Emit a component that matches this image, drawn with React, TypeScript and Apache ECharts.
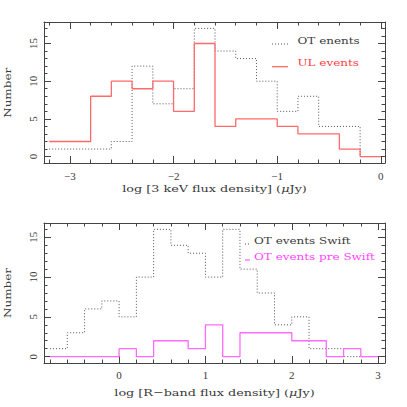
import React, { useEffect, useRef } from "react";
import * as echarts from "echarts";

// ---- data ----
const topBinLefts = [-3.2, -3.0, -2.8, -2.6, -2.4, -2.2, -2.0, -1.8, -1.6, -1.4, -1.2, -1.0, -0.8, -0.6, -0.4, -0.2];
const topBinEnd = 0;
const otCounts = [1, 1, 1, 2, 12, 7, 9, 17, 14, 13, 10, 6, 8, 4, 4, 0];
const ulCounts = [2, 2, 8, 10, 9, 10, 6, 15, 4, 5, 5, 4, 3, 3, 1, 0];

const bottomBinLefts = [-0.8, -0.6, -0.4, -0.2, 0, 0.2, 0.4, 0.6, 0.8, 1.0, 1.2, 1.4, 1.6, 1.8, 2.0, 2.2, 2.4, 2.6, 2.8];
const bottomBinEnd = 3.0;
const swiftCounts = [1, 3, 6, 7, 5, 10, 16, 14, 13, 10, 16, 11, 8, 4, 5, 1, 1, 0, 0];
const preSwiftCounts = [0, 0, 0, 0, 1, 0, 2, 2, 1, 4, 0, 3, 3, 3, 2, 2, 0, 1, 0];

const topXMajor = [-3, -2, -1, 0];
const bottomXMajor = [0, 1, 2, 3];
const yMajor = [0, 5, 10, 15];

const topXRange = [-3.25, 0.04];
const bottomXRange = [-0.87, 3.08];
const topYRange = [-0.85, 17.85];
const bottomYRange = [-0.8, 16.8];

const steps = (lefts: number[], end: number, vals: number[]) => {
  const d = lefts.map((x, i) => [x, vals[i]]);
  d.push([end, vals[vals.length - 1]]);
  return d;
};

const rangeTicks = (a: number, b: number, s: number) => {
  const out: number[] = [];
  const n = Math.round((b - a) / s);
  for (let i = 0; i <= n; i++) out.push(+(a + i * s).toFixed(3));
  return out;
};

const AX = "#444";
const TXT = "#3a3a3a";
const SERIF = "'DejaVu Serif', 'Liberation Serif', serif";
const TICKFONT = "'Liberation Serif', serif";

export default function App() {
  const ref = useRef<HTMLDivElement>(null);
  useEffect(() => {
    document.body.style.margin = "0";
    const chart = echarts.init(ref.current!, null, { renderer: "svg" });

    const grids = [
      { left: 44, top: 22, width: 341, height: 141 },
      { left: 44, top: 223, width: 341, height: 140 },
    ];

    const xAxes: any[] = [];
    const yAxes: any[] = [];
    const cfgs = [
      { xr: topXRange, yr: topYRange, xm: topXMajor, xmin: rangeTicks(-3.2, 0, 0.2), ymin: rangeTicks(0, 17, 1), labMargin: 7 },
      { xr: bottomXRange, yr: bottomYRange, xm: bottomXMajor, xmin: rangeTicks(-0.8, 3, 0.2), ymin: rangeTicks(0, 16, 1), labMargin: 6 },
    ];
    cfgs.forEach((c, g) => {
      const base = { type: "value", gridIndex: g, splitLine: { show: false } };
      // x major bottom
      xAxes.push({
        ...base, min: c.xr[0], max: c.xr[1], position: "bottom",
        axisLine: { show: true, onZero: false, lineStyle: { color: AX, width: 1 } },
        axisTick: { show: true, inside: true, length: 7, customValues: c.xm, lineStyle: { color: AX } },
        axisLabel: {
          show: true, customValues: c.xm, margin: c.labMargin, color: TXT, fontSize: 11, fontFamily: TICKFONT,
          formatter: (v: number) => String(v).replace("-", "\u2212"),
        },
      });
      xAxes.push({
        ...base, min: c.xr[0], max: c.xr[1], position: "bottom",
        axisLine: { show: false, onZero: false },
        axisTick: { show: true, inside: true, length: 3.5, customValues: c.xmin, lineStyle: { color: AX } },
        axisLabel: { show: false },
      });
      xAxes.push({
        ...base, min: c.xr[0], max: c.xr[1], position: "top",
        axisLine: { show: true, onZero: false, lineStyle: { color: AX, width: 1 } },
        axisTick: { show: true, inside: true, length: 7, customValues: c.xm, lineStyle: { color: AX } },
        axisLabel: { show: false },
      });
      xAxes.push({
        ...base, min: c.xr[0], max: c.xr[1], position: "top",
        axisLine: { show: false, onZero: false },
        axisTick: { show: true, inside: true, length: 3.5, customValues: c.xmin, lineStyle: { color: AX } },
        axisLabel: { show: false },
      });
      // y axes
      yAxes.push({
        ...base, min: c.yr[0], max: c.yr[1], position: "left",
        axisLine: { show: true, onZero: false, lineStyle: { color: AX, width: 1 } },
        axisTick: { show: true, inside: true, length: 7, customValues: yMajor, lineStyle: { color: AX } },
        axisLabel: { show: true, customValues: yMajor, rotate: 90, margin: 6, color: TXT, fontSize: 11, fontFamily: TICKFONT },
      });
      yAxes.push({
        ...base, min: c.yr[0], max: c.yr[1], position: "left",
        axisLine: { show: false, onZero: false },
        axisTick: { show: true, inside: true, length: 3.5, customValues: c.ymin, lineStyle: { color: AX } },
        axisLabel: { show: false },
      });
      yAxes.push({
        ...base, min: c.yr[0], max: c.yr[1], position: "right",
        axisLine: { show: true, onZero: false, lineStyle: { color: AX, width: 1 } },
        axisTick: { show: true, inside: true, length: 7, customValues: yMajor, lineStyle: { color: AX } },
        axisLabel: { show: false },
      });
      yAxes.push({
        ...base, min: c.yr[0], max: c.yr[1], position: "right",
        axisLine: { show: false, onZero: false },
        axisTick: { show: true, inside: true, length: 3.5, customValues: c.ymin, lineStyle: { color: AX } },
        axisLabel: { show: false },
      });
    });

    const dotted = { color: "#555", width: 1, type: [1, 2] };
    const series: any[] = [
      { name: "OT enents", type: "line", step: "end", xAxisIndex: 0, yAxisIndex: 0, symbol: "none", lineStyle: dotted, data: steps(topBinLefts, topBinEnd, otCounts) },
      { name: "UL events", type: "line", step: "end", xAxisIndex: 0, yAxisIndex: 0, symbol: "none", lineStyle: { color: "#ff6a6a", width: 1.3 }, data: steps(topBinLefts, topBinEnd, ulCounts) },
      { name: "OT events Swift", type: "line", step: "end", xAxisIndex: 4, yAxisIndex: 4, symbol: "none", lineStyle: dotted, data: steps(bottomBinLefts, bottomBinEnd, swiftCounts) },
      { name: "OT events pre Swift", type: "line", step: "end", xAxisIndex: 4, yAxisIndex: 4, symbol: "none", lineStyle: { color: "#ff6aff", width: 1.3 }, data: steps(bottomBinLefts, bottomBinEnd, preSwiftCounts) },
    ];

    const txt = (text: string, x: number, y: number, fill: string, align = "left", rotation = 0, sx = 1.2) => ({
      type: "text", x, y, rotation, scaleX: sx, scaleY: 1,
      style: { text, fill, font: `10px ${SERIF}`, textAlign: align, textVerticalAlign: "middle" },
    });
    const titleTxt = (pre: string, x: number, y: number) => ({
      type: "text", x, y, scaleX: 1.28,
      style: {
        text: `{a|${pre} (}{i|\u03bc}{a|Jy)}`,
        textAlign: "center", textVerticalAlign: "middle",
        rich: {
          a: { fontSize: 10, fontFamily: SERIF, fill: TXT },
          i: { fontSize: 10, fontFamily: SERIF, fontStyle: "italic", fill: TXT },
        },
      },
    });

    const graphic: any[] = [
      txt("Number", 8, 92.8, TXT, "center", Math.PI / 2),
      txt("Number", 8, 293, TXT, "center", Math.PI / 2),
      titleTxt("log [3 keV flux density]", 214.5, 189),
      titleTxt("log [R\u2212band flux density]", 214.5, 393),
      { type: "line", shape: { x1: 272, y1: 44, x2: 288, y2: 44 }, style: { stroke: "#555", lineWidth: 1, lineDash: [1, 2] } },
      txt("OT enents", 297.5, 40.5, TXT),
      { type: "line", shape: { x1: 272, y1: 66.7, x2: 288, y2: 66.7 }, style: { stroke: "#ff6a6a", lineWidth: 1.3 } },
      txt("UL events", 297.5, 63, "#ff4040"),
      { type: "line", shape: { x1: 245, y1: 244, x2: 250, y2: 244 }, style: { stroke: "#555", lineWidth: 1, lineDash: [1, 2] } },
      txt("OT events Swift", 254, 241, TXT),
      { type: "line", shape: { x1: 245, y1: 260, x2: 250, y2: 260 }, style: { stroke: "#ff6aff", lineWidth: 1.3 } },
      txt("OT events pre Swift", 254, 256.7, "#ff44ff"),
    ];

    chart.setOption({
      animation: false,
      backgroundColor: "#fff",
      grid: grids,
      xAxis: xAxes,
      yAxis: yAxes,
      series,
      graphic,
    });
    return () => chart.dispose();
  }, []);
  return <div ref={ref} style={{ width: 407, height: 407, position: "absolute", left: 0, top: 0 }} />;
}
